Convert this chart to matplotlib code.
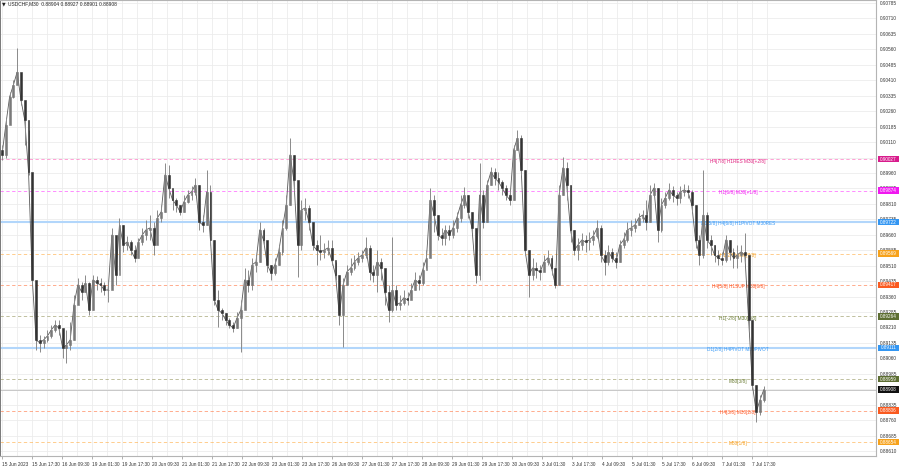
import numpy as np
import matplotlib
matplotlib.use("Agg")
import matplotlib.pyplot as plt
from matplotlib.patches import Rectangle
from matplotlib.transforms import blended_transform_factory

plt.rcParams['font.family'] = ['Liberation Sans', 'DejaVu Sans']

# ---------------- data (USDCHF, M30, sampled every ~2 hours) ----------------
closes = [
    0.90048, 0.90193, 0.90329, 0.90387, 0.90450, 0.90315, 0.90217, 0.89965, 0.89441, 0.89150,
    0.89135, 0.89150, 0.89169, 0.89198, 0.89222, 0.89208, 0.89111, 0.89125, 0.89150, 0.89320,
    0.89417, 0.89383, 0.89426, 0.89295, 0.89441, 0.89426, 0.89417, 0.89392, 0.89392, 0.89659,
    0.89465, 0.89708, 0.89611, 0.89625, 0.89586, 0.89548, 0.89625, 0.89659, 0.89684, 0.89693,
    0.89611, 0.89742, 0.89771, 0.89951, 0.89887, 0.89829, 0.89805, 0.89771, 0.89820, 0.89853,
    0.89868, 0.89902, 0.89722, 0.89708, 0.89868, 0.89635, 0.89344, 0.89295, 0.89281, 0.89247,
    0.89222, 0.89208, 0.89256, 0.89295, 0.89441, 0.89417, 0.89514, 0.89528, 0.89684, 0.89635,
    0.89514, 0.89475, 0.89514, 0.89577, 0.89693, 0.89805, 0.90048, 0.89926, 0.89611, 0.89781,
    0.89790, 0.89722, 0.89611, 0.89586, 0.89577, 0.89586, 0.89596, 0.89538, 0.89465, 0.89271,
    0.89417, 0.89480, 0.89499, 0.89528, 0.89548, 0.89562, 0.89596, 0.89480, 0.89465, 0.89528,
    0.89499, 0.89383, 0.89295, 0.89392, 0.89320, 0.89329, 0.89354, 0.89344, 0.89392, 0.89441,
    0.89426, 0.89489, 0.89548, 0.89829, 0.89756, 0.89659, 0.89645, 0.89684, 0.89659, 0.89693,
    0.89742, 0.89805, 0.89853, 0.89771, 0.89693, 0.89465, 0.89853, 0.89722, 0.89902, 0.89965,
    0.89936, 0.89917, 0.89887, 0.89853, 0.89829, 0.90072, 0.90130, 0.89975, 0.89586, 0.89465,
    0.89499, 0.89489, 0.89480, 0.89528, 0.89548, 0.89499, 0.89417, 0.89853, 0.89985, 0.89902,
    0.89684, 0.89586, 0.89611, 0.89635, 0.89625, 0.89635, 0.89654, 0.89693, 0.89562, 0.89528,
    0.89577, 0.89548, 0.89528, 0.89611, 0.89635, 0.89684, 0.89693, 0.89708, 0.89742, 0.89756,
    0.89722, 0.89853, 0.89887, 0.89684, 0.89805, 0.89839, 0.89878, 0.89853, 0.89839, 0.89868,
    0.89878, 0.89868, 0.89805, 0.89635, 0.89562, 0.89756, 0.89635, 0.89611, 0.89562, 0.89548,
    0.89538, 0.89635, 0.89577, 0.89548, 0.89562, 0.89577, 0.89562, 0.89247, 0.88931, 0.88800,
    0.88858, 0.88908,
]
highs = [
    0.90096, 0.90227, 0.90353, 0.90412, 0.90567, 0.90436, 0.90266, 0.90169, 0.89951, 0.89417,
    0.89174, 0.89169, 0.89198, 0.89222, 0.89247, 0.89247, 0.89198, 0.89198, 0.89237, 0.89368,
    0.89451, 0.89431, 0.89465, 0.89431, 0.89465, 0.89460, 0.89451, 0.89431, 0.89441, 0.89693,
    0.89635, 0.89742, 0.89708, 0.89654, 0.89635, 0.89611, 0.89645, 0.89693, 0.89732, 0.89756,
    0.89722, 0.89781, 0.89805, 0.90009, 0.89999, 0.89878, 0.89839, 0.89805, 0.89853, 0.89878,
    0.89897, 0.89936, 0.89902, 0.89756, 0.89975, 0.89902, 0.89635, 0.89392, 0.89305, 0.89281,
    0.89256, 0.89237, 0.89286, 0.89344, 0.89499, 0.89489, 0.89548, 0.89562, 0.89722, 0.89693,
    0.89611, 0.89514, 0.89548, 0.89611, 0.89732, 0.89853, 0.90130, 0.90048, 0.89878, 0.89829,
    0.89839, 0.89805, 0.89693, 0.89635, 0.89659, 0.89620, 0.89635, 0.89635, 0.89528, 0.89465,
    0.89451, 0.89514, 0.89548, 0.89562, 0.89577, 0.89586, 0.89650, 0.89611, 0.89514, 0.89586,
    0.89548, 0.89489, 0.89417, 0.89650, 0.89417, 0.89368, 0.89392, 0.89383, 0.89426, 0.89480,
    0.89465, 0.89528, 0.89586, 0.89887, 0.89853, 0.89756, 0.89693, 0.89708, 0.89708, 0.89732,
    0.89771, 0.89853, 0.89892, 0.89853, 0.89771, 0.89684, 0.90009, 0.89878, 0.89926, 0.89989,
    0.89985, 0.89965, 0.89926, 0.89902, 0.89878, 0.90096, 0.90169, 0.90145, 0.89975, 0.89586,
    0.89548, 0.89528, 0.89514, 0.89562, 0.89586, 0.89562, 0.89499, 0.89902, 0.90038, 0.90014,
    0.89902, 0.89684, 0.89645, 0.89669, 0.89659, 0.89674, 0.89684, 0.89732, 0.89708, 0.89586,
    0.89611, 0.89596, 0.89577, 0.89635, 0.89674, 0.89722, 0.89732, 0.89742, 0.89766, 0.89781,
    0.89829, 0.89902, 0.89912, 0.89887, 0.89839, 0.89868, 0.89912, 0.89897, 0.89868, 0.89897,
    0.89907, 0.89902, 0.89878, 0.89805, 0.89659, 0.89975, 0.89771, 0.89659, 0.89611, 0.89586,
    0.89577, 0.89659, 0.89635, 0.89596, 0.89611, 0.89611, 0.89669, 0.89562, 0.89247, 0.88931,
    0.88883, 0.88927,
]
lows = [
    0.90023, 0.90033, 0.90290, 0.90324, 0.90412, 0.90290, 0.90096, 0.89951, 0.89417, 0.89101,
    0.89091, 0.89111, 0.89140, 0.89159, 0.89189, 0.89174, 0.89062, 0.89038, 0.89101, 0.89150,
    0.89344, 0.89344, 0.89383, 0.89271, 0.89295, 0.89392, 0.89383, 0.89368, 0.89334, 0.89417,
    0.89417, 0.89489, 0.89577, 0.89586, 0.89562, 0.89528, 0.89548, 0.89611, 0.89635, 0.89635,
    0.89562, 0.89635, 0.89722, 0.89771, 0.89839, 0.89781, 0.89771, 0.89756, 0.89771, 0.89815,
    0.89829, 0.89853, 0.89684, 0.89674, 0.89708, 0.89611, 0.89320, 0.89213, 0.89247, 0.89222,
    0.89208, 0.89189, 0.89208, 0.89091, 0.89320, 0.89383, 0.89392, 0.89480, 0.89528, 0.89611,
    0.89480, 0.89441, 0.89465, 0.89514, 0.89562, 0.89684, 0.89805, 0.89868, 0.89455, 0.89586,
    0.89732, 0.89684, 0.89586, 0.89514, 0.89538, 0.89548, 0.89562, 0.89514, 0.89441, 0.89222,
    0.89116, 0.89417, 0.89465, 0.89489, 0.89514, 0.89528, 0.89548, 0.89441, 0.89431, 0.89383,
    0.89441, 0.89320, 0.89237, 0.89286, 0.89295, 0.89295, 0.89320, 0.89320, 0.89354, 0.89392,
    0.89392, 0.89417, 0.89499, 0.89586, 0.89674, 0.89635, 0.89611, 0.89611, 0.89635, 0.89645,
    0.89674, 0.89722, 0.89790, 0.89742, 0.89674, 0.89426, 0.89441, 0.89693, 0.89722, 0.89902,
    0.89902, 0.89878, 0.89853, 0.89829, 0.89805, 0.89829, 0.90072, 0.89951, 0.89562, 0.89358,
    0.89441, 0.89451, 0.89441, 0.89489, 0.89514, 0.89465, 0.89402, 0.89417, 0.89853, 0.89829,
    0.89625, 0.89562, 0.89538, 0.89586, 0.89577, 0.89586, 0.89611, 0.89645, 0.89528, 0.89465,
    0.89514, 0.89528, 0.89499, 0.89528, 0.89596, 0.89625, 0.89654, 0.89674, 0.89708, 0.89722,
    0.89684, 0.89722, 0.89853, 0.89625, 0.89674, 0.89790, 0.89829, 0.89820, 0.89805, 0.89815,
    0.89849, 0.89839, 0.89771, 0.89596, 0.89514, 0.89548, 0.89596, 0.89562, 0.89528, 0.89514,
    0.89514, 0.89528, 0.89538, 0.89499, 0.89499, 0.89528, 0.89528, 0.89198, 0.88907, 0.88752,
    0.88786, 0.88849,
]
first_open = 0.90072

price_ticks = [0.90785, 0.90710, 0.90635, 0.90560, 0.90485, 0.90410, 0.90335, 0.90260,
               0.90185, 0.90110, 0.90035, 0.89960, 0.89885, 0.89810, 0.89735, 0.89660,
               0.89585, 0.89510, 0.89435, 0.89360, 0.89285, 0.89210, 0.89135, 0.89060,
               0.88985, 0.88910, 0.88835, 0.88760, 0.88685, 0.88610]

date_labels = ["15 Jun 2023", "15 Jun 17:30", "16 Jun 09:30", "19 Jun 01:30", "19 Jun 17:30",
               "20 Jun 09:30", "21 Jun 01:30", "21 Jun 17:30", "22 Jun 09:30", "23 Jun 01:30",
               "23 Jun 17:30", "26 Jun 09:30", "27 Jun 01:30", "27 Jun 17:30", "28 Jun 09:30",
               "29 Jun 01:30", "29 Jun 17:30", "30 Jun 09:30", "3 Jul 01:30", "3 Jul 17:30",
               "4 Jul 09:30", "5 Jul 01:30", "5 Jul 17:30", "6 Jul 09:30", "7 Jul 01:30",
               "7 Jul 17:30"]

level_prices = [0.90027, 0.89874, 0.89722, 0.89569, 0.89417, 0.89264, 0.89111, 0.88959,
                0.88806, 0.88654]
level_names = ["H4[7/8] H1RES M30[+2/8]", "H1[6/8] M30[+1/8]", "D1[5/8] H4[6/8] H1PIVOT M30RES",
               "H1[2/8] M30[7/8]", "H4[5/8] H1SUP M30[6/8]", "H1[-2/8] M30[5/8]",
               "D1[2/8] H4PIVOT M30PIVOT", "M30[3/8]", "H4[3/8] M30[2/8]", "M30[1/8]"]
last_price = 0.88908
title_text = "USDCHF,M30  0.88904 0.88927 0.88901 0.88908"

# ---------------- styles ----------------
line_colors = ['#ff6fbf', '#ff4dff', '#b2d6fb', '#ffb14f', '#ff7f4f', '#9c9c6a', '#b2d6fb',
               '#9c9c6a', '#ff7f4f', '#ffb14f']
line_styles = ['dash', 'dash', 'solid', 'dash', 'dash', 'dash', 'solid', 'dash', 'dash', 'dash']
text_colors = ['#e0207f', '#f01ef0', '#3d9bf5', '#f5a020', '#ff5522', '#6b7d35', '#3d9bf5',
               '#6b7d35', '#ff5522', '#f5a020']
tag_colors = ['#d81b8c', '#f018f0', '#3396f2', '#f7a21b', '#fa5a20', '#5d6e32', '#3396f2',
              '#5d6e32', '#fa5a20', '#f7a21b']

W, H = 900, 468
plot_right, plot_bottom = 876, 456
px0, pxs = 2.0, 3.79  # pixel x of first sample and pixels per sample

fig = plt.figure(figsize=(W / 100, H / 100), dpi=100)
fig.patch.set_facecolor('white')
ax = fig.add_axes([0, (H - plot_bottom) / H, plot_right / W, plot_bottom / H])
ax.set_facecolor('white')

n = len(closes)
x = np.arange(n)
c = np.array(closes)
o = np.array([first_open] + closes[:-1])
hi = np.array(highs)
lo = np.array(lows)

ax.set_xlim((0 - px0) / pxs, (plot_right - px0) / pxs)
ax.set_ylim(0.885862, 0.907996)

# grid
tick_pos = (1.7 + 30.0 * np.arange(len(date_labels)) - px0) / pxs
minor_pos = tick_pos + 15.0 / pxs
for xp in list(tick_pos) + list(minor_pos):
    ax.axvline(xp, color='#ececec', lw=0.6, zorder=0)
for yp in price_ticks:
    ax.axhline(yp, color='#ececec', lw=0.6, zorder=0)

# level lines
for p, lc, ls in zip(level_prices, line_colors, line_styles):
    if ls == 'solid':
        ax.axhline(p, color=lc, lw=1.5, zorder=1)
    else:
        ax.axhline(p, color=lc, lw=0.6, alpha=0.75, linestyle=(0, (4, 3)), zorder=1)
ax.axhline(last_price, color='#c8c8c8', lw=0.7, zorder=1)

# level labels (behind candles)
lab_x = (738 - px0) / pxs
for p, name, tc in zip(level_prices, level_names, text_colors):
    ax.text(lab_x, p - 0.00009, name, color=tc, fontsize=3.4, ha='center', va='center', zorder=2)

# candles (thin trace of the bars, then wicks and bodies)
ax.plot(x, c, color='#5a5a5a', lw=0.6, zorder=3)
ax.vlines(x, lo, hi, color='#8a8a8a', lw=0.7, zorder=4)
bear = c < o
body_col = np.where(bear, '#333333', '#7a7a7a')
ax.bar(x, np.abs(c - o), bottom=np.minimum(c, o), width=0.5, color=body_col,
       edgecolor=body_col, lw=0.4, zorder=5)

# axes styling
ax.set_xticks(tick_pos)
ax.set_xticklabels(date_labels)
for lbl in ax.get_xticklabels():
    lbl.set_ha('left')
ax.tick_params(axis='x', length=2, width=0.5, color='#909090', pad=2.2, labelsize=3.4,
               labelcolor='#333333')
ax.yaxis.tick_right()
ax.set_yticks(price_ticks)
ax.set_yticklabels([f"{v:.5f}" for v in price_ticks])
ax.tick_params(axis='y', length=0, pad=3.0, labelsize=3.4, labelcolor='#333333')

for side in ['top', 'right', 'bottom']:
    ax.spines[side].set_color('#b4b4b4')
    ax.spines[side].set_linewidth(0.8)
ax.spines['left'].set_color('#7a7a7a')
ax.spines['left'].set_linewidth(1.4)

# price tags on the right scale
tr = blended_transform_factory(fig.transFigure, ax.transData)
tag_h = 0.00032
for p, tcol in zip(level_prices + [last_price], tag_colors + ['#111111']):
    ax.add_patch(Rectangle((878 / W, p - tag_h / 2), 21 / W, tag_h, transform=tr,
                           facecolor=tcol, edgecolor='none', clip_on=False, zorder=20))
    ax.text(888.5 / W, p, f"{p:.5f}", transform=tr, color='white', fontsize=3.3,
            ha='center', va='center', clip_on=False, zorder=21)

# title
fig.text(2 / W, 1 - 4 / H, "\u25BC", fontsize=3.4, color='#222222', va='center', ha='left',
         family=['DejaVu Sans'])
fig.text(8 / W, 1 - 4 / H, title_text, fontsize=3.5, color='#222222', va='center', ha='left')

fig.savefig('out.png', dpi=100, facecolor='white')
